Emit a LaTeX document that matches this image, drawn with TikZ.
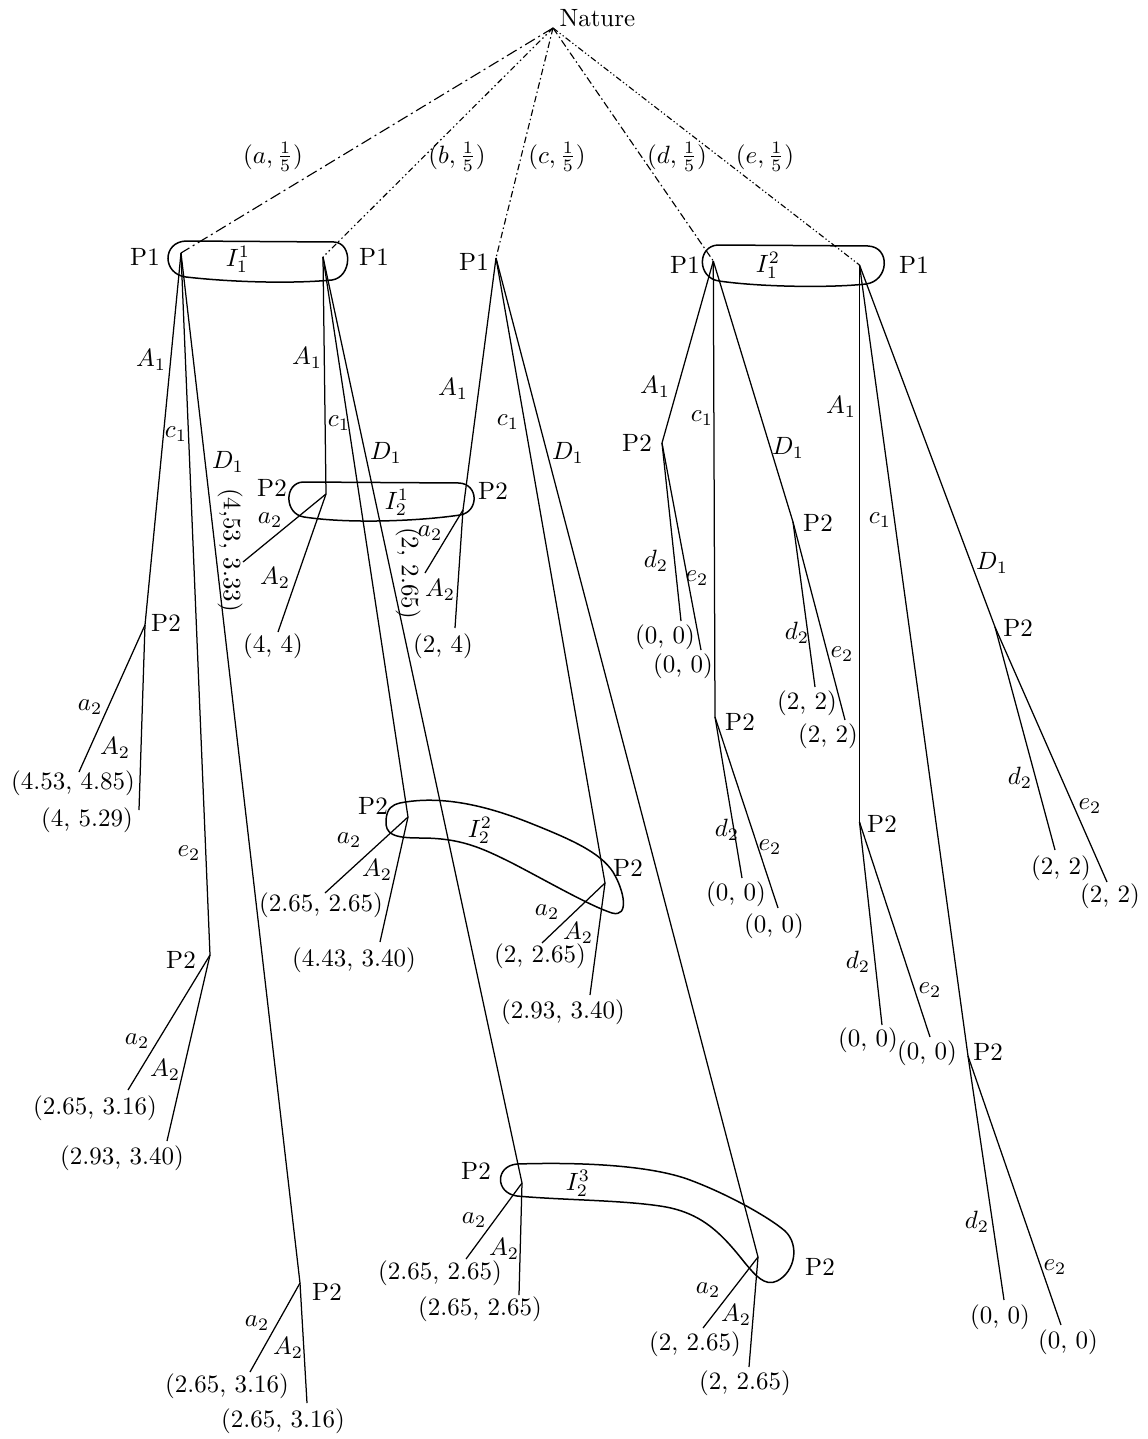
\documentclass[tikz,border=0pt]{standalone}
\begin{document}
\begin{tikzpicture}[x=0.4pt,y=-0.4pt,
  edge/.style={line width=0.5pt},
  nat/.style={line width=0.45pt},
  iset/.style={line width=0.6pt},
  lbl/.style={inner sep=0pt},
  leaf/.style={inner sep=0pt},
  plab/.style={inner sep=0pt}]
\useasboundingbox (0,0) rectangle (1147,1439);

% ---------- Nature ----------
\coordinate (N) at (553,28);
\node[plab, anchor=west] (natlbl) at (559,18) {Nature};

% ---------- Player 1 nodes ----------
\coordinate (P1a) at (181,253);
\coordinate (P1b) at (323,257);
\coordinate (P1c) at (496,258);
\coordinate (P1d) at (713.3,261);
\coordinate (P1e) at (859.5,265);

\draw[nat, dash pattern=on 4.5pt off 1.6pt on 0.8pt off 1.6pt] (N) -- (P1a);
\draw[nat, dash pattern=on 2.4pt off 1.2pt on 0.6pt off 1.2pt on 0.6pt off 1.2pt] (N) -- (P1b);
\draw[nat, dash pattern=on 2.6pt off 1.2pt on 0.6pt off 1.2pt] (N) -- (P1c);
\draw[nat, dash pattern=on 3pt off 1.2pt on 0.6pt off 1.2pt] (N) -- (P1d);
\draw[nat, dash pattern=on 2.4pt off 1pt on 0.5pt off 1pt on 0.5pt off 1pt] (N) -- (P1e);

\node[lbl] (na) at (273,157) {$(a,\frac{1}{5})$};
\node[lbl] (nb) at (457,157) {$(b,\frac{1}{5})$};
\node[lbl] (nc) at (557,157) {$(c,\frac{1}{5})$};
\node[lbl] (nd) at (677,157) {$(d,\frac{1}{5})$};
\node[lbl] (ne) at (765,157) {$(e,\frac{1}{5})$};

\node[plab] (p1la) at (145,257) {P1};
\node[plab] (p1lb) at (374,257) {P1};
\node[plab] (p1lc) at (474,262) {P1};
\node[plab] (p1ld) at (685,265) {P1};
\node[plab] (p1le) at (914,265) {P1};

% information sets of player 1
\draw[iset] (186,241) -- (334,242) .. controls (353,243) and (352,277) .. (332,280)
  .. controls (290,284) and (230,282) .. (186,277) .. controls (162,274) and (162,242) .. (186,241) -- cycle;
\node[lbl] (i11) at (238,259) {$I_1^1$};
\draw[iset] (718,245) -- (868,246) .. controls (891,247) and (889,281) .. (866,284)
  .. controls (830,288) and (760,287) .. (719,281) .. controls (697,278) and (697,246) .. (718,245) -- cycle;
\node[lbl] (i12) at (768,265) {$I_1^2$};

% ---------- subtree P1a ----------
\coordinate (Q1) at (145,625);
\coordinate (Q2) at (210,955);
\coordinate (Q3) at (300,1283);
\draw[edge] (P1a) -- (Q1);
\draw[edge] (P1a) -- (Q2);
\draw[edge] (P1a) -- (Q3);
\node[lbl] (qa1) at (151,360) {$A_1$};
\node[lbl] (qc1) at (176,434) {$c_1$};
\node[lbl] (qe2) at (189,853) {$e_2$};
\node[lbl] (qd1) at (228,462) {$D_1$};

\node[plab] (q1l) at (166,623) {P2};
\coordinate (q1x) at (79,772);
\coordinate (q1y) at (139,810);
\draw[edge] (Q1) -- (q1x);
\draw[edge] (Q1) -- (q1y);
\node[lbl] (q1a) at (90,707) {$a_2$};
\node[lbl] (q1b) at (115,748) {$A_2$};
\node[leaf] (q1xl) at (73,783) {(4.53, 4.85)};
\node[leaf] (q1yl) at (87,820) {(4, 5.29)};

\node[plab] (q2l) at (181,960) {P2};
\coordinate (q2x) at (128,1090);
\coordinate (q2y) at (167,1141);
\draw[edge] (Q2) -- (q2x);
\draw[edge] (Q2) -- (q2y);
\node[lbl] (q2a) at (137,1041) {$a_2$};
\node[lbl] (q2b) at (165,1070) {$A_2$};
\node[leaf] (q2xl) at (95,1108) {(2.65, 3.16)};
\node[leaf] (q2yl) at (122,1158) {(2.93, 3.40)};

\node[plab] (q3l) at (327,1292) {P2};
\coordinate (q3x) at (250,1372);
\coordinate (q3y) at (307,1403);
\draw[edge] (Q3) -- (q3x);
\draw[edge] (Q3) -- (q3y);
\node[lbl] (q3a) at (257,1323) {$a_2$};
\node[lbl] (q3b) at (288,1348) {$A_2$};
\node[leaf] (q3xl) at (227,1386) {(2.65, 3.16)};
\node[leaf] (q3yl) at (283,1421) {(2.65, 3.16)};

% ---------- subtree P1b ----------
\coordinate (R1) at (326,494);
\coordinate (R2) at (408,817);
\coordinate (R3) at (522,1183);
\draw[edge] (P1b) -- (R1);
\draw[edge] (P1b) -- (R2);
\draw[edge] (P1b) -- (R3);
\node[lbl] (ra1) at (307,358) {$A_1$};
\node[lbl] (rc1) at (339,423) {$c_1$};
\node[lbl] (rd1) at (386,453) {$D_1$};

% ---------- subtree P1c ----------
\coordinate (S1) at (463,510);
\coordinate (S2) at (605,883);
\coordinate (S3) at (758,1257);
\draw[edge] (P1c) -- (S1);
\draw[edge] (P1c) -- (S2);
\draw[edge] (P1c) -- (S3);
\node[lbl] (sa1) at (453,389) {$A_1$};
\node[lbl] (sc1) at (508,422) {$c_1$};
\node[lbl] (sd1) at (568,453) {$D_1$};

% information set I_2^1
\draw[iset] (303,482) -- (459,483) .. controls (479,484) and (479,512) .. (460,515)
  .. controls (420,521) and (350,524) .. (304,517) .. controls (284,514) and (284,483) .. (303,482) -- cycle;
\node[lbl] (i21) at (397,502) {$I_2^1$};
\node[plab] (r1l) at (272,488) {P2};
\coordinate (r1x) at (243,562);
\coordinate (r1y) at (278,632);
\draw[edge] (R1) -- (r1x);
\draw[edge] (R1) -- (r1y);
\node[lbl] (r1a) at (270,520) {$a_2$};
\node[lbl] (r1b) at (275,578) {$A_2$};
\node[leaf, rotate=-90] (r1xl) at (230,550) {(4,53, 3.33)};
\node[leaf] (r1yl) at (273,646) {(4, 4)};

\node[plab] (s1l) at (493,491) {P2};
\coordinate (s1x) at (425,573);
\coordinate (s1y) at (455,628);
\draw[edge] (S1) -- (s1x);
\draw[edge] (S1) -- (s1y);
\node[lbl] (s1a) at (430,533) {$a_2$};
\node[lbl] (s1b) at (440,590) {$A_2$};
\node[leaf, rotate=-90] (s1xl) at (408,573) {(2, 2.65)};
\node[leaf] (s1yl) at (443,646) {(2, 4)};

% information set I_2^2
\draw[iset] (400,803) .. controls (440,795) and (485,805) .. (530,823)
  .. controls (570,839) and (600,852) .. (613,872) .. controls (624,890) and (630,918) .. (612,913)
  .. controls (590,906) and (545,880) .. (512,863) .. controls (480,847) and (460,838) .. (420,838)
  .. controls (393,838) and (385,834) .. (386,820) .. controls (387,808) and (392,805) .. (400,803) -- cycle;
\node[lbl] (i22) at (480,830) {$I_2^2$};
\node[plab] (r2l) at (373,806) {P2};
\coordinate (r2x) at (325,893);
\coordinate (r2y) at (380,942);
\draw[edge] (R2) -- (r2x);
\draw[edge] (R2) -- (r2y);
\node[lbl] (r2a) at (349,840) {$a_2$};
\node[lbl] (r2b) at (377,870) {$A_2$};
\node[leaf] (r2xl) at (321,905) {(2.65, 2.65)};
\node[leaf] (r2yl) at (354,960) {(4.43, 3.40)};

\node[plab] (s2l) at (628,868) {P2};
\coordinate (s2x) at (542,943);
\coordinate (s2y) at (590,995);
\draw[edge] (S2) -- (s2x);
\draw[edge] (S2) -- (s2y);
\node[lbl] (s2a) at (547,912) {$a_2$};
\node[lbl] (s2b) at (578,933) {$A_2$};
\node[leaf] (s2xl) at (540,956) {(2, 2.65)};
\node[leaf] (s2yl) at (563,1012) {(2.93, 3.40)};

% information set I_2^3
\draw[iset] (517,1164) .. controls (580,1162) and (650,1165) .. (690,1180)
  .. controls (730,1195) and (770,1218) .. (785,1231) .. controls (800,1245) and (795,1272) .. (777,1281)
  .. controls (765,1287) and (755,1275) .. (745,1263) .. controls (722,1234) and (702,1212) .. (660,1206)
  .. controls (620,1200) and (560,1200) .. (517,1196) .. controls (495,1193) and (495,1166) .. (517,1164) -- cycle;
\node[lbl] (i23) at (578,1183) {$I_2^3$};
\node[plab] (r3l) at (476,1171) {P2};
\coordinate (r3x) at (466,1259);
\coordinate (r3y) at (519,1295);
\draw[edge] (R3) -- (r3x);
\draw[edge] (R3) -- (r3y);
\node[lbl] (r3a) at (474,1220) {$a_2$};
\node[lbl] (r3b) at (504,1249) {$A_2$};
\node[leaf] (r3xl) at (440,1273) {(2.65, 2.65)};
\node[leaf] (r3yl) at (480,1309) {(2.65, 2.65)};

\node[plab] (s3l) at (820,1267) {P2};
\coordinate (s3x) at (703,1328);
\coordinate (s3y) at (749,1367);
\draw[edge] (S3) -- (s3x);
\draw[edge] (S3) -- (s3y);
\node[lbl] (s3a) at (708,1290) {$a_2$};
\node[lbl] (s3b) at (736,1315) {$A_2$};
\node[leaf] (s3xl) at (695,1344) {(2, 2.65)};
\node[leaf] (s3yl) at (745,1383) {(2, 2.65)};

% ---------- subtree P1d ----------
\coordinate (T1) at (662,443);
\coordinate (T2) at (715,717);
\coordinate (T3) at (793,522);
\draw[edge] (P1d) -- (T1);
\draw[edge] (P1d) -- (T2);
\draw[edge] (P1d) -- (T3);
\node[lbl] (ta1) at (655,387) {$A_1$};
\node[lbl] (tc1) at (702,418) {$c_1$};
\node[lbl] (td1) at (788,448) {$D_1$};

\node[plab] (t1l) at (637,443) {P2};
\coordinate (t1x) at (681,621);
\coordinate (t1y) at (701,650);
\draw[edge] (T1) -- (t1x);
\draw[edge] (T1) -- (t1y);
\node[lbl] (t1a) at (656,561) {$d_2$};
\node[lbl] (t1b) at (697,578) {$e_2$};
\node[leaf] (t1xl) at (665,637) {(0, 0)};
\node[leaf] (t1yl) at (683,666) {(0, 0)};

\node[plab] (t2l) at (740,722) {P2};
\coordinate (t2x) at (742,878);
\coordinate (t2y) at (778,908);
\draw[edge] (T2) -- (t2x);
\draw[edge] (T2) -- (t2y);
\node[lbl] (t2a) at (727,830) {$d_2$};
\node[lbl] (t2b) at (770,847) {$e_2$};
\node[leaf] (t2xl) at (736,894) {(0, 0)};
\node[leaf] (t2yl) at (774,926) {(0, 0)};

\node[plab] (t3l) at (818,523) {P2};
\coordinate (t3x) at (815,687);
\coordinate (t3y) at (845,720);
\draw[edge] (T3) -- (t3x);
\draw[edge] (T3) -- (t3y);
\node[lbl] (t3a) at (797,633) {$d_2$};
\node[lbl] (t3b) at (842,654) {$e_2$};
\node[leaf] (t3xl) at (807,703) {(2, 2)};
\node[leaf] (t3yl) at (828,736) {(2, 2)};

% ---------- subtree P1e ----------
\coordinate (U1) at (859.5,822);
\coordinate (U2) at (968,1056);
\coordinate (U3) at (995,627);
\draw[edge] (P1e) -- (U1);
\draw[edge] (P1e) -- (U2);
\draw[edge] (P1e) -- (U3);
\node[lbl] (ua1) at (841,407) {$A_1$};
\node[lbl] (uc1) at (880,520) {$c_1$};
\node[lbl] (ud1) at (992,563) {$D_1$};

\node[plab] (u1l) at (882,824) {P2};
\coordinate (u1x) at (882,1025);
\coordinate (u1y) at (930,1037);
\draw[edge] (U1) -- (u1x);
\draw[edge] (U1) -- (u1y);
\node[lbl] (u1a) at (858,962) {$d_2$};
\node[lbl] (u1b) at (930,990) {$e_2$};
\node[leaf] (u1xl) at (868,1040) {(0, 0)};
\node[leaf] (u1yl) at (927,1053) {(0, 0)};

\node[plab] (u2l) at (988,1052) {P2};
\coordinate (u2x) at (1004,1300);
\coordinate (u2y) at (1061,1325);
\draw[edge] (U2) -- (u2x);
\draw[edge] (U2) -- (u2y);
\node[lbl] (u2a) at (977,1222) {$d_2$};
\node[lbl] (u2b) at (1055,1267) {$e_2$};
\node[leaf] (u2xl) at (1000,1317) {(0, 0)};
\node[leaf] (u2yl) at (1068,1342) {(0, 0)};

\node[plab] (u3l) at (1018,628) {P2};
\coordinate (u3x) at (1055,850);
\coordinate (u3y) at (1107,882);
\draw[edge] (U3) -- (u3x);
\draw[edge] (U3) -- (u3y);
\node[lbl] (u3a) at (1020,778) {$d_2$};
\node[lbl] (u3b) at (1090,806) {$e_2$};
\node[leaf] (u3xl) at (1061,868) {(2, 2)};
\node[leaf] (u3yl) at (1110,896) {(2, 2)};

\end{tikzpicture}
\end{document}
